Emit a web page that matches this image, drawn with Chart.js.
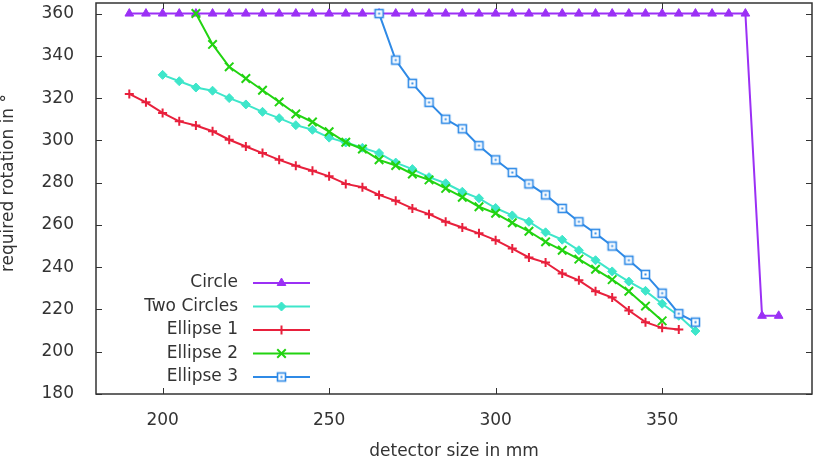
<!DOCTYPE html>
<html>
<head>
<meta charset="utf-8">
<script src="https://cdn.jsdelivr.net/npm/chart.js@4/dist/chart.umd.min.js"></script>
<style>
  html, body { margin: 0; padding: 0; background: #fff; }
  #wrap { width: 815px; height: 458px; }
</style>
</head>
<body>
<div id="wrap"><canvas id="chart"></canvas></div>
<script>
const xTicks = [200, 250, 300, 350];
const yTicks = [180, 200, 220, 240, 260, 280, 300, 320, 340, 360];

const circleX = [190, 195, 200, 205, 210, 215, 220, 225, 230, 235, 240, 245, 250, 255, 260, 265, 270, 275, 280, 285,
  290, 295, 300, 305, 310, 315, 320, 325, 330, 335, 340, 345, 350, 355, 360, 365, 370, 375, 380, 385];
const circleY = [360, 360, 360, 360, 360, 360, 360, 360, 360, 360, 360, 360, 360, 360, 360, 360, 360, 360, 360, 360,
  360, 360, 360, 360, 360, 360, 360, 360, 360, 360, 360, 360, 360, 360, 360, 360, 360, 360, 217, 217];

const twoCirclesX = [200, 205, 210, 215, 220, 225, 230, 235, 240, 245, 250, 255, 260, 265, 270, 275, 280, 285, 290, 295,
  300, 305, 310, 315, 320, 325, 330, 335, 340, 345, 350, 355, 360];
const twoCirclesY = [331, 328, 325, 323.5, 320, 317, 313.5, 310.5, 307.2, 305, 301.3, 299, 296.5, 294, 289.5, 286.4, 282.6, 279.7, 275.7, 272.6,
  268, 264.5, 261.5, 256.5, 253, 248, 243.3, 238, 233.2, 228.8, 222.7, 217, 209.8];

const ellipse1X = [190, 195, 200, 205, 210, 215, 220, 225, 230, 235, 240, 245, 250, 255, 260, 265, 270, 275, 280, 285,
  290, 295, 300, 305, 310, 315, 320, 325, 330, 335, 340, 345, 350, 355];
const ellipse1Y = [322, 318, 313, 309, 307, 304.3, 300.3, 297.1, 294, 290.8, 288, 285.6, 283, 279.4, 277.8, 274.2, 271.4, 267.8, 265.1, 261.5,
  258.8, 256, 252.8, 248.8, 244.6, 242.2, 237, 233.8, 228.6, 225.6, 219.5, 214, 211.3, 210.5];

const ellipse2X = [210, 215, 220, 225, 230, 235, 240, 245, 250, 255, 260, 265, 270, 275, 280, 285, 290, 295, 300, 305,
  310, 315, 320, 325, 330, 335, 340, 345, 350];
const ellipse2Y = [360, 345.4, 334.8, 329.3, 323.7, 318.2, 312.5, 308.7, 304.1, 299.1, 295.9, 290.8, 288.1, 284.1, 281.3, 277.3, 273.1, 268.6, 265.5, 261,
  257, 252, 248, 243.8, 239, 234.1, 228.6, 221.6, 214.6];

const ellipse3X = [265, 270, 275, 280, 285, 290, 295, 300, 305, 310, 315, 320, 325, 330, 335, 340, 345, 350, 355, 360];
const ellipse3Y = [360, 338, 327, 318, 310, 305.5, 297.5, 290.8, 284.8, 279.4, 274.2, 267.8, 261.5, 256, 250, 243.3, 236.6, 227.7, 218, 214];

const yTitle = 'required rotation in °';

const FONT = 'DejaVu Sans';
const INK = '#333';

// open square with a dot in the middle (gnuplot style)
function squareDot(color) {
  const c = document.createElement('canvas');
  c.width = 13;
  c.height = 13;
  const g = c.getContext('2d');
  g.fillStyle = '#fff';
  g.fillRect(2.5, 2.5, 8, 8);
  g.strokeStyle = color;
  g.lineWidth = 1.6;
  g.strokeRect(2.5, 2.5, 8, 8);
  g.fillStyle = color;
  g.fillRect(5.5, 5.5, 2, 2);
  return c;
}

const series = [
  { label: 'Circle', xs: circleX, ys: circleY, color: '#9b30f5', style: 'triangle', radius: 5, bw: 1 },
  { label: 'Two Circles', xs: twoCirclesX, ys: twoCirclesY, color: '#3ee6ca', style: 'rectRot', radius: 4.5, bw: 1 },
  { label: 'Ellipse 1', xs: ellipse1X, ys: ellipse1Y, color: '#e8203c', style: 'cross', radius: 4.5, bw: 2 },
  { label: 'Ellipse 2', xs: ellipse2X, ys: ellipse2Y, color: '#22d311', style: 'crossRot', radius: 6, bw: 2 },
  { label: 'Ellipse 3', xs: ellipse3X, ys: ellipse3Y, color: '#2f8ae6', style: null, radius: 6, bw: 1 },
];

const datasets = series.map((s, i) => ({
  label: s.label,
  data: s.xs.map((x, j) => ({ x, y: s.ys[j] })),
  borderColor: s.color,
  backgroundColor: s.color,
  borderWidth: 2,
  pointStyle: s.style || squareDot(s.color),
  pointRadius: s.radius,
  pointBackgroundColor: s.color,
  pointBorderColor: s.color,
  pointBorderWidth: s.bw,
  tension: 0,
  order: series.length - i,
}));

// inside legend, text right-aligned, sample on the right
const legendBox = { textRight: 238, lineLeft: 253, lineRight: 310, top: 283, step: 23.5 };

const framePlugin = {
  id: 'frame',
  afterDraw(chart) {
    const { ctx, chartArea: a, scales } = chart;
    ctx.save();
    ctx.strokeStyle = INK;
    ctx.lineWidth = 1;
    ctx.beginPath();
    xTicks.forEach((v) => {
      const px = Math.round(scales.x.getPixelForValue(v)) + 0.5;
      ctx.moveTo(px, a.bottom); ctx.lineTo(px, a.bottom - 6);
      ctx.moveTo(px, a.top); ctx.lineTo(px, a.top + 6);
    });
    yTicks.forEach((v) => {
      const py = Math.round(scales.y.getPixelForValue(v)) + 0.5;
      ctx.moveTo(a.left, py); ctx.lineTo(a.left + 6, py);
      ctx.moveTo(a.right, py); ctx.lineTo(a.right - 6, py);
    });
    ctx.stroke();
    ctx.lineWidth = 1.5;
    ctx.strokeRect(a.left, a.top, a.right - a.left, a.bottom - a.top);

    ctx.font = '17px "' + FONT + '"';
    ctx.fillStyle = INK;
    ctx.textAlign = 'center';
    ctx.textBaseline = 'middle';
    ctx.save();
    ctx.translate(9, 183);
    ctx.rotate(-Math.PI / 2);
    ctx.fillText(yTitle, 0, 0);
    ctx.restore();

    ctx.textAlign = 'right';
    chart.data.datasets.forEach((ds, i) => {
      const y = legendBox.top + i * legendBox.step;
      ctx.fillStyle = INK;
      ctx.fillText(ds.label, legendBox.textRight, y);
      ctx.strokeStyle = ds.borderColor;
      ctx.lineWidth = ds.borderWidth;
      ctx.beginPath();
      ctx.moveTo(legendBox.lineLeft, y);
      ctx.lineTo(legendBox.lineRight, y);
      ctx.stroke();
      ctx.fillStyle = ds.pointBackgroundColor;
      ctx.strokeStyle = ds.pointBorderColor;
      ctx.lineWidth = ds.pointBorderWidth;
      Chart.helpers.drawPoint(ctx, {
        pointStyle: ds.pointStyle,
        radius: ds.pointRadius,
        rotation: 0,
        borderWidth: ds.pointBorderWidth,
      }, (legendBox.lineLeft + legendBox.lineRight) / 2, y);
    });
    ctx.restore();
  },
};

Chart.defaults.font.family = FONT;
Chart.defaults.font.size = 17;
Chart.defaults.color = INK;

new Chart(document.getElementById('chart'), {
  type: 'line',
  data: { datasets },
  plugins: [framePlugin],
  options: {
    responsive: true,
    maintainAspectRatio: false,
    animation: false,
    layout: { autoPadding: false, padding: { top: 3, right: 3, left: 0, bottom: 0 } },
    plugins: {
      legend: { display: false },
      tooltip: { enabled: false },
    },
    scales: {
      x: {
        type: 'linear',
        min: 180,
        max: 395,
        afterBuildTicks: (scale) => { scale.ticks = xTicks.map((value) => ({ value })); },
        afterFit: (scale) => {
          scale.height = 64;
          scale.paddingLeft = 0;
          scale.paddingRight = 0;
        },
        grid: { display: false, drawTicks: false },
        border: { display: false },
        ticks: { padding: 16 },
        title: {
          display: true,
          text: 'detector size in mm',
          font: { size: 17, lineHeight: 0.8 },
          padding: { top: 0, bottom: 0 },
        },
      },
      y: {
        type: 'linear',
        min: 180,
        max: 365,
        afterBuildTicks: (scale) => { scale.ticks = yTicks.map((value) => ({ value })); },
        afterFit: (scale) => {
          scale.width = 96;
          scale.paddingTop = 0;
          scale.paddingBottom = 0;
        },
        grid: { display: false, drawTicks: false },
        border: { display: false },
        ticks: { padding: 22 },
        title: { display: false },
      },
    },
  },
});
</script>
</body>
</html>
